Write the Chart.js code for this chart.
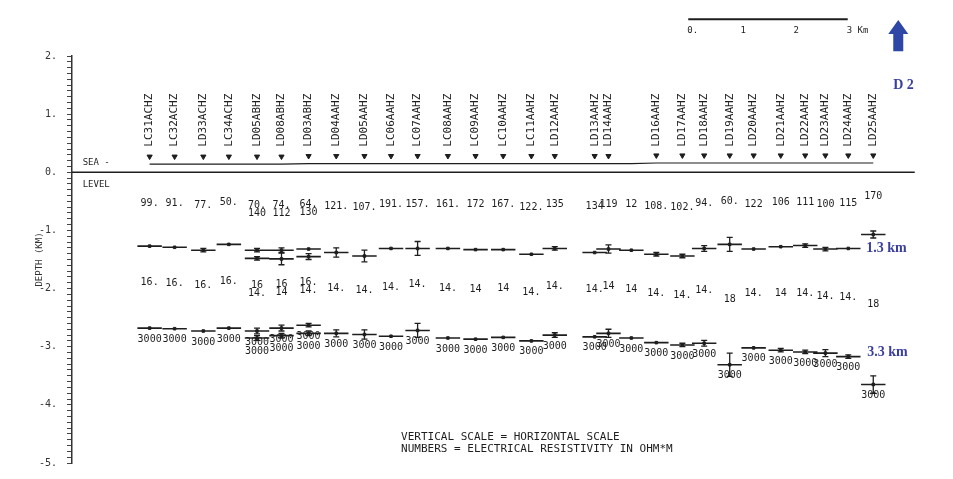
<!DOCTYPE html>
<html>
<head>
<meta charset="utf-8">
<script src="https://cdn.jsdelivr.net/npm/chart.js@4.4.1/dist/chart.umd.min.js"></script>
<style>
  html, body { margin: 0; padding: 0; background: #fff; }
  canvas { display: block; }
</style>
</head>
<body>
<canvas id="sectionChart" width="953" height="479"></canvas>
<script>
// station names (one station near 10.5 km has no printed name)
const stations = ['LC31ACHZ','LC32ACHZ','LD33ACHZ','LC34ACHZ','LD05ABHZ','LD08ABHZ','LD03ABHZ','LD04AAHZ','LD05AAHZ',
  'LC06AAHZ','LC07AAHZ','LC08AAHZ','LC09AAHZ','LC10AAHZ','LC11AAHZ','LD12AAHZ','LD13AAHZ','LD14AAHZ','',
  'LD16AAHZ','LD17AAHZ','LD18AAHZ','LD19AAHZ','LD20AAHZ','LD21AAHZ','LD22AAHZ','LD23AAHZ','LD24AAHZ','LD25AAHZ'];
// distance along profile, km
const distKm = [1.46,1.93,2.47,2.95,3.48,3.94,4.45,4.97,5.50,6.00,6.50,7.07,7.59,8.11,8.64,9.08,9.83,10.09,10.52,
  10.99,11.48,11.89,12.37,12.82,13.33,13.79,14.17,14.60,15.07];
const topoKm = [0.14,0.14,0.14,0.14,0.14,0.14,0.15,0.15,0.15,0.15,0.15,0.15,0.15,0.15,0.15,0.15,0.15,0.15,0.15,
  0.16,0.16,0.16,0.16,0.16,0.16,0.16,0.16,0.16,0.16];

// first layer
const rhoTop = ['99.','91.','77.','50.','70.','74.','64.','121.','107.','191.','157.','161.','172','167.','122.','135',
  '134','119','12','108.','102.','94.','60.','122','106','111','100','115','170'];
const rhoTopAlt = [null,null,null,null,'140','112','130',null,null,null,null,null,null,null,null,null,
  null,null,null,null,null,null,null,null,null,null,null,null,null];
// depth of first interface, km
const depthTop = [-1.27,-1.29,-1.34,-1.24,-1.34,-1.34,-1.32,-1.38,-1.44,-1.31,-1.31,-1.31,-1.33,-1.33,-1.41,-1.31,
  -1.38,-1.32,-1.34,-1.41,-1.44,-1.31,-1.24,-1.32,-1.28,-1.26,-1.32,-1.31,-1.07];
const errTop = [0,0,0.03,0,0.03,0.04,0,0.08,0.1,0,0.12,0,0,0,0,0.03,0,0.07,0,0.03,0.03,0.05,0.12,0,0,0.03,0.03,0,0.06];
const depthTopAlt = [null,null,null,null,-1.48,-1.49,-1.45,null,null,null,null,null,null,null,null,null,
  null,null,null,null,null,null,null,null,null,null,null,null,null];
const errTopAlt = [0,0,0,0,0.03,0.1,0.05,0,0,0,0,0,0,0,0,0,0,0,0,0,0,0,0,0,0,0,0,0,0];

// second layer
const rhoMid = ['16.','16.','16.','16.','16','16','16.','14.','14.','14.','14.','14.','14','14','14.','14.','14.','14',
  '14','14.','14.','14.','18','14.','14','14.','14.','14.','18'];
const rhoMidAlt = [null,null,null,null,'14.','14','14.',null,null,null,null,null,null,null,null,null,
  null,null,null,null,null,null,null,null,null,null,null,null,null];
// depth of second interface, km
const depthBot = [-2.68,-2.69,-2.73,-2.68,-2.73,-2.68,-2.63,-2.77,-2.79,-2.82,-2.72,-2.85,-2.87,-2.84,-2.90,-2.80,
  -2.83,-2.77,-2.85,-2.93,-2.97,-2.94,-3.31,-3.02,-3.06,-3.09,-3.11,-3.17,-3.65];
const errBot = [0,0,0,0,0.05,0.05,0.03,0.06,0.08,0,0.12,0,0,0,0,0.04,0,0.07,0,0,0.03,0.05,0.2,0,0.03,0.03,0.06,0.03,0.15];
const depthBotAlt = [null,null,null,null,-2.85,-2.81,-2.77,null,null,null,null,null,null,null,null,null,
  null,null,null,null,null,null,null,null,null,null,null,null,null];
const errBotAlt = [0,0,0,0,0.04,0.04,0.04,0,0,0,0,0,0,0,0,0,0,0,0,0,0,0,0,0,0,0,0,0,0];
const rhoBase = '3000';

const scaleBarKm = [0, 1, 2, 3];
const notes = ['VERTICAL SCALE = HORIZONTAL SCALE', 'NUMBERS = ELECTRICAL RESISTIVITY IN OHM*M'];

const HALF = 0.23;          // half width of a layer bar, km
const INK = '#1e1e1e';
const BLUE = '#3a3f9c';
const MONO = '"DejaVu Sans Mono", "Liberation Mono", monospace';

function segments(depths) {
  const pts = [];
  depths.forEach((d, i) => {
    if (d === null) return;
    pts.push({x: distKm[i] - HALF, y: d}, {x: distKm[i] + HALF, y: d}, {x: distKm[i], y: null});
  });
  return pts;
}

function errorBars(depths, errs) {
  const pts = [];
  depths.forEach((d, i) => {
    if (d === null || !errs[i]) return;
    pts.push({x: distKm[i], y: d + errs[i]}, {x: distKm[i], y: d - errs[i]}, {x: distKm[i], y: null});
  });
  return pts;
}

function centres(depths) {
  return depths.map((d, i) => ({x: distKm[i], y: d})).filter(p => p.y !== null);
}

const segStyle = {showLine: true, borderColor: INK, borderWidth: 1.6, pointRadius: 0, spanGaps: false};
const errStyle = {showLine: true, borderColor: INK, borderWidth: 1.3, pointStyle: 'line', pointRadius: 3,
  pointBorderColor: INK, pointBorderWidth: 1.3, spanGaps: false};
const dotStyle = {showLine: false, pointStyle: 'rect', pointRadius: 1.8, backgroundColor: INK, borderColor: INK};

const textPlugin = {
  id: 'sectionText',
  afterDatasetsDraw(chart) {
    const {ctx, scales: {x, y}} = chart;
    ctx.save();
    ctx.fillStyle = INK;
    ctx.textBaseline = 'middle';

    // station names, rotated
    ctx.font = '11px ' + MONO;
    stations.forEach((name, i) => {
      if (!name) return;
      ctx.save();
      ctx.translate(x.getPixelForValue(distKm[i]), y.getPixelForValue(0.44));
      ctx.rotate(-Math.PI / 2);
      ctx.textAlign = 'left';
      ctx.fillText(name, 0, 0);
      ctx.restore();
    });

    ctx.textAlign = 'center';
    ctx.font = '10px ' + MONO;
    distKm.forEach((d, i) => {
      const px = x.getPixelForValue(d);
      // first layer resistivity
      const y1 = y.getPixelForValue((topoKm[i] + depthTop[i]) / 2) - 2;
      ctx.fillText(rhoTop[i], px, y1);
      if (rhoTopAlt[i]) ctx.fillText(rhoTopAlt[i], px, y1 + 8);
      // second layer resistivity
      const y2 = y.getPixelForValue((depthTop[i] + depthBot[i]) / 2) - 5;
      ctx.fillText(rhoMid[i], px, y2);
      if (rhoMidAlt[i]) ctx.fillText(rhoMidAlt[i], px, y2 + 8);
      // basement resistivity
      ctx.fillText(rhoBase, px, y.getPixelForValue(depthBot[i]) + 11);
      if (depthBotAlt[i] !== null) ctx.fillText(rhoBase, px, y.getPixelForValue(depthBotAlt[i]) + 13);
    });

    // sea level tag
    ctx.textAlign = 'left';
    ctx.font = '9px ' + MONO;
    ctx.fillText('SEA -', x.getPixelForValue(0.2), y.getPixelForValue(0) - 10);
    ctx.fillText('LEVEL', x.getPixelForValue(0.2), y.getPixelForValue(0) + 12);

    // notes
    ctx.font = '11px ' + MONO;
    notes.forEach((t, k) => ctx.fillText(t, x.getPixelForValue(6.19), y.getPixelForValue(-4.47) + 5 + k * 12));

    // scale bar
    const sb0 = 11.59;
    const sbY = y.getPixelForValue(2.63);
    ctx.strokeStyle = INK;
    ctx.lineWidth = 2;
    ctx.beginPath();
    ctx.moveTo(x.getPixelForValue(sb0), sbY);
    ctx.lineTo(x.getPixelForValue(sb0 + 3), sbY);
    ctx.stroke();
    ctx.font = '9px ' + MONO;
    scaleBarKm.forEach(k => {
      const label = k === 0 ? '0.' : (k === 3 ? '3 Km' : String(k));
      ctx.fillText(label, x.getPixelForValue(sb0 + k) - 1, sbY + 11);
    });

    // blue annotations
    ctx.fillStyle = BLUE;
    ctx.font = 'bold 14px "Liberation Serif", serif';
    const lastPx = x.getPixelForValue(distKm[distKm.length - 1]);
    ctx.fillText('D 2', lastPx + 20, y.getPixelForValue(1.5));
    ctx.fillText('1.3 km', lastPx - 7, y.getPixelForValue(-1.31));
    ctx.fillText('3.3 km', lastPx - 6, y.getPixelForValue(-3.1));

    // north arrow
    const ax = lastPx + 25;
    const top = y.getPixelForValue(2.62);
    const bottom = y.getPixelForValue(2.08);
    ctx.fillStyle = '#2e46a6';
    ctx.beginPath();
    ctx.moveTo(ax, top);
    ctx.lineTo(ax + 10, top + 14);
    ctx.lineTo(ax + 5, top + 14);
    ctx.lineTo(ax + 5, bottom);
    ctx.lineTo(ax - 5, bottom);
    ctx.lineTo(ax - 5, top + 14);
    ctx.lineTo(ax - 10, top + 14);
    ctx.closePath();
    ctx.fill();
    ctx.restore();
  }
};

const ctx = document.getElementById('sectionChart').getContext('2d');
const sectionChart = new Chart(ctx, {
  type: 'scatter',
  data: {
    datasets: [
      {label: 'sea level', data: [{x: 0, y: 0}, {x: 15.85, y: 0}], showLine: true, borderColor: INK, borderWidth: 1.6, pointRadius: 0},
      {label: 'topography', data: distKm.map((d, i) => ({x: d, y: topoKm[i]})), showLine: true, borderColor: INK, borderWidth: 1.2, pointRadius: 0},
      {label: 'stations', data: distKm.map((d, i) => ({x: d, y: stations[i] ? topoKm[i] + 0.13 : null})),
        pointStyle: 'triangle', rotation: 180, pointRadius: 3, backgroundColor: INK, borderColor: INK, borderWidth: 1},
      Object.assign({label: 'interface 1', data: segments(depthTop)}, segStyle),
      Object.assign({label: 'interface 1 alt', data: segments(depthTopAlt)}, segStyle),
      Object.assign({label: 'interface 2', data: segments(depthBot)}, segStyle),
      Object.assign({label: 'interface 2 alt', data: segments(depthBotAlt)}, segStyle),
      Object.assign({label: 'err 1', data: errorBars(depthTop, errTop)}, errStyle),
      Object.assign({label: 'err 1 alt', data: errorBars(depthTopAlt, errTopAlt)}, errStyle),
      Object.assign({label: 'err 2', data: errorBars(depthBot, errBot)}, errStyle),
      Object.assign({label: 'err 2 alt', data: errorBars(depthBotAlt, errBotAlt)}, errStyle),
      Object.assign({label: 'c1', data: centres(depthTop)}, dotStyle),
      Object.assign({label: 'c1 alt', data: centres(depthTopAlt)}, dotStyle),
      Object.assign({label: 'c2', data: centres(depthBot)}, dotStyle),
      Object.assign({label: 'c2 alt', data: centres(depthBotAlt)}, dotStyle)
    ]
  },
  options: {
    responsive: false,
    animation: false,
    devicePixelRatio: 1,
    layout: {padding: {top: 56, bottom: 11, left: 0, right: 0}},
    plugins: {legend: {display: false}, tooltip: {enabled: false}},
    scales: {
      x: {type: 'linear', min: 0, max: 16.47, display: false},
      y: {
        type: 'linear', min: -5, max: 2,
        afterFit(scale) { scale.width = 72; },
        border: {display: true, color: '#333', width: 1.5},
        grid: {drawOnChartArea: false, drawTicks: true, tickLength: 5, color: '#444', lineWidth: 1},
        ticks: {
          stepSize: 0.1, autoSkip: false, maxTicksLimit: 200, padding: 10,
          color: '#333', font: {family: MONO, size: 10},
          callback(v) {
            const r = Math.round(v);
            return Math.abs(v - r) < 1e-6 ? (r === 0 ? '0' : r) + '.' : '';
          }
        },
        title: {display: true, text: 'DEPTH (KM)', color: '#333', font: {family: MONO, size: 9}, padding: {top: 34, bottom: 0}}
      }
    }
  },
  plugins: [textPlugin]
});
</script>
</body>
</html>
